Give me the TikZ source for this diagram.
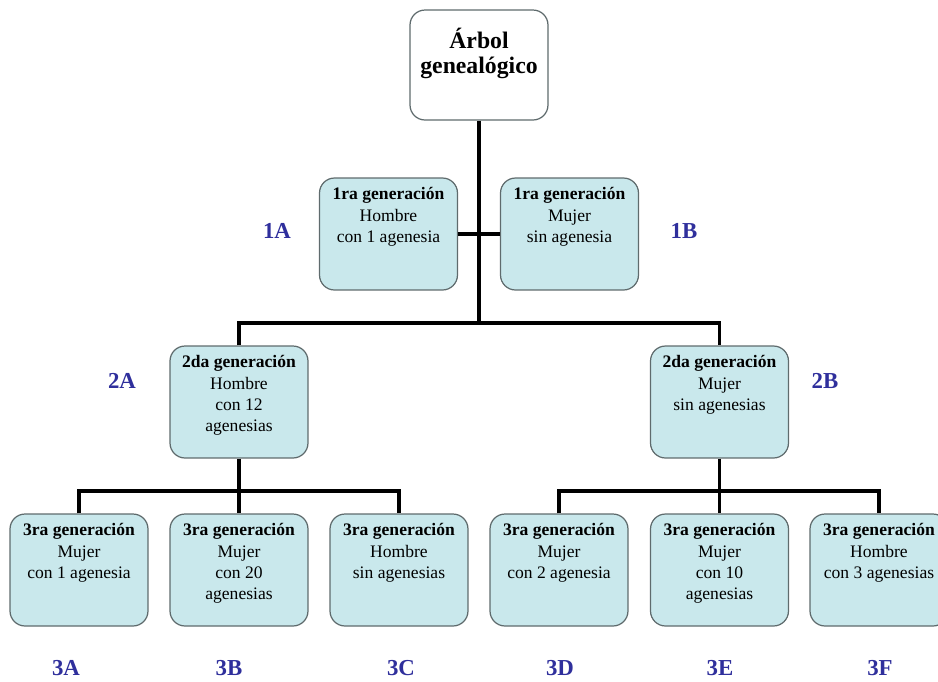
\documentclass[tikz,border=0pt]{standalone}
\usepackage{fontspec}
\setmainfont{Liberation Serif}
\usetikzlibrary{positioning}
\definecolor{boxFill}{HTML}{C9E8EC}
\definecolor{boxLine}{HTML}{5F6B6D}
\definecolor{tagBlue}{HTML}{2F2F9C}
\tikzset{
  genbox/.style={
    rectangle, rounded corners=0.3cm, draw=boxLine, fill=boxFill,
    minimum width=2.76cm, minimum height=2.24cm, line width=0.7pt,
  },
  rootbox/.style={genbox, fill=white, minimum height=2.2cm},
  boxtext/.style={
    anchor=north, align=center, font=\fontsize{10}{12}\selectfont,
    inner sep=0pt, yshift=-0.2cm,
  },
  roottext/.style={boxtext, font=\fontsize{13.5}{14.5}\selectfont\bfseries, yshift=-0.16cm},
  tree/.style={line width=2.2pt, black},
  tag/.style={font=\fontsize{13}{15}\selectfont\bfseries, text=tagBlue},
}
\begin{document}
\begin{tikzpicture}[x=0.02cm, y=-0.02cm]
  \useasboundingbox (0,0) rectangle (938,681);

  % root
  \node[rootbox, label={[roottext]north:\'Arbol\\geneal\'ogico}] (root) at (479,65) {};

  % first generation
  \node[genbox, label={[boxtext]north:\textbf{1ra generación}\\Hombre\\con 1 agenesia}] (g1a) at (388.5,234) {};
  \node[genbox, label={[boxtext]north:\textbf{1ra generación}\\Mujer\\sin agenesia}] (g1b) at (569.5,234) {};

  % second generation
  \node[genbox, label={[boxtext]north:\textbf{2da generación}\\Hombre\\con 12\\agenesias}] (g2a) at (239,402) {};
  \node[genbox, label={[boxtext]north:\textbf{2da generación}\\Mujer\\sin agenesias}] (g2b) at (719.5,402) {};

  % third generation
  \node[genbox, label={[boxtext]north:\textbf{3ra generación}\\Mujer\\con 1 agenesia}] (g3a) at (79,570) {};
  \node[genbox, label={[boxtext]north:\textbf{3ra generación}\\Mujer\\con 20\\agenesias}] (g3b) at (239,570) {};
  \node[genbox, label={[boxtext]north:\textbf{3ra generación}\\Hombre\\sin agenesias}] (g3c) at (399,570) {};
  \node[genbox, label={[boxtext]north:\textbf{3ra generación}\\Mujer\\con 2 agenesia}] (g3d) at (559,570) {};
  \node[genbox, label={[boxtext]north:\textbf{3ra generación}\\Mujer\\con 10\\agenesias}] (g3e) at (719.5,570) {};
  \node[genbox, label={[boxtext]north:\textbf{3ra generación}\\Hombre\\con 3 agenesias}] (g3f) at (879,570) {};

  % connectors
  \coordinate (j1) at (479,323);
  \coordinate (j2a) at (239,491);
  \coordinate (j2b) at (719.5,491);

  \draw[tree] (root.south) -- (j1);
  \draw[tree] (g1a.east) -- (g1b.west);
  \draw[tree] (g2a.north) |- (j1) -| (g2b.north);

  \draw[tree] (g2a.south) -- (j2a);
  \draw[tree] (g3a.north) |- (j2a) -| (g3c.north);
  \draw[tree] (j2a) -- (g3b.north);

  \draw[tree] (g2b.south) -- (j2b);
  \draw[tree] (g3d.north) |- (j2b) -| (g3f.north);
  \draw[tree] (j2b) -- (g3e.north);

  % tags
  \node[tag] (t1a) at (277,231) {1A};
  \node[tag] (t1b) at (684,231) {1B};
  \node[tag] (t2a) at (122,381) {2A};
  \node[tag] (t2b) at (825,381) {2B};
  \node[tag] (t3a) at (66,668) {3A};
  \node[tag] (t3b) at (229,668) {3B};
  \node[tag] (t3c) at (401,668) {3C};
  \node[tag] (t3d) at (560,668) {3D};
  \node[tag] (t3e) at (720,668) {3E};
  \node[tag] (t3f) at (880,668) {3F};

\end{tikzpicture}
\end{document}
